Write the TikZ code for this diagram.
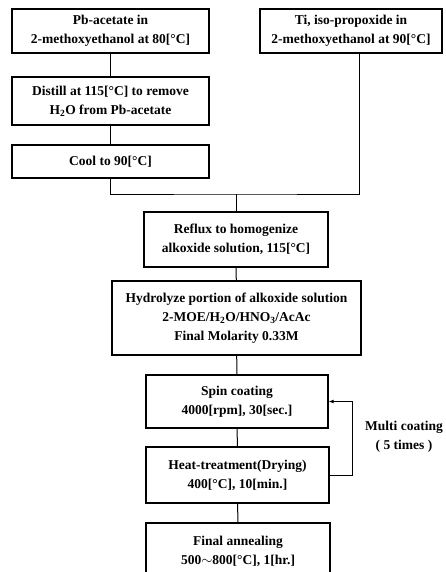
\documentclass[tikz,border=0pt]{standalone}
\usepackage{fontspec}
\setmainfont{Liberation Serif}
\usetikzlibrary{arrows.meta}
\newcommand{\boxfont}{\fontsize{13.5}{19}\selectfont\bfseries}
\begin{document}
\begin{tikzpicture}[x=1pt,y=-1pt]
	\clip (0,0) rectangle (446,572);
	\begin{scope}[every node/.style={rectangle,draw,line width=1.2pt,align=center,inner sep=1pt,font=\boxfont}]
	\node[minimum width=197pt,minimum height=44pt] (pb) at (110.5,31) {Pb-acetate in\\2-methoxyethanol at 80[°C]};
	\node[minimum width=182pt,minimum height=44pt] (ti) at (351,31) {Ti, iso-propoxide in\\2-methoxyethanol at 90[°C]};
	\node[minimum width=197pt,minimum height=48pt] (distill) at (110.5,101) {Distill at 115[°C] to remove\\H\textsubscript{2}O from Pb-acetate};
	\node[minimum width=197pt,minimum height=33pt] (cool) at (110.5,161.5) {Cool to 90[°C]};
	\node[minimum width=184pt,minimum height=55pt] (reflux) at (236,239.5) {Reflux to homogenize\\alkoxide solution, 115[°C]};
	\node[minimum width=249pt,minimum height=74pt] (hydro) at (236.5,318) {Hydrolyze portion of alkoxide solution\\2-MOE/H\textsubscript{2}O/HNO\textsubscript{3}/AcAc\\Final Molarity 0.33M};
	\node[minimum width=182pt,minimum height=53pt] (spin) at (237,401.5) {Spin coating\\4000[rpm], 30[sec.]};
	\node[minimum width=183pt,minimum height=56pt] (heat) at (237.5,475) {Heat-treatment(Drying)\\400[°C], 10[min.]};
	\node[minimum width=184pt,minimum height=56pt] (final) at (238,551) {Final annealing\\500$\sim$800[°C], 1[hr.]};
	\end{scope}
	\coordinate (join) at (236,194);
	\coordinate (tidrop) at ([xshift=8pt]ti.south);
	\begin{scope}[every edge/.style={draw=black,line width=1pt}]
	\path (pb) edge (distill);
	\path (distill) edge (cool);
	\path (join) edge (reflux);
	\path (reflux) edge (hydro);
	\path (hydro) edge (spin);
	\path (spin) edge (heat);
	\path (heat) edge (final);
	\end{scope}
	\draw[line width=1pt] (cool.south) |- (join) -| (tidrop);
	\draw[line width=1pt,-{Latex[length=5pt,width=4pt]}] (heat.east) -- ++(23,0) |- (spin.east);
	\node[align=center,font=\boxfont] (multi) at (404,437) {Multi coating\\( 5 times )};
\end{tikzpicture}
\end{document}
